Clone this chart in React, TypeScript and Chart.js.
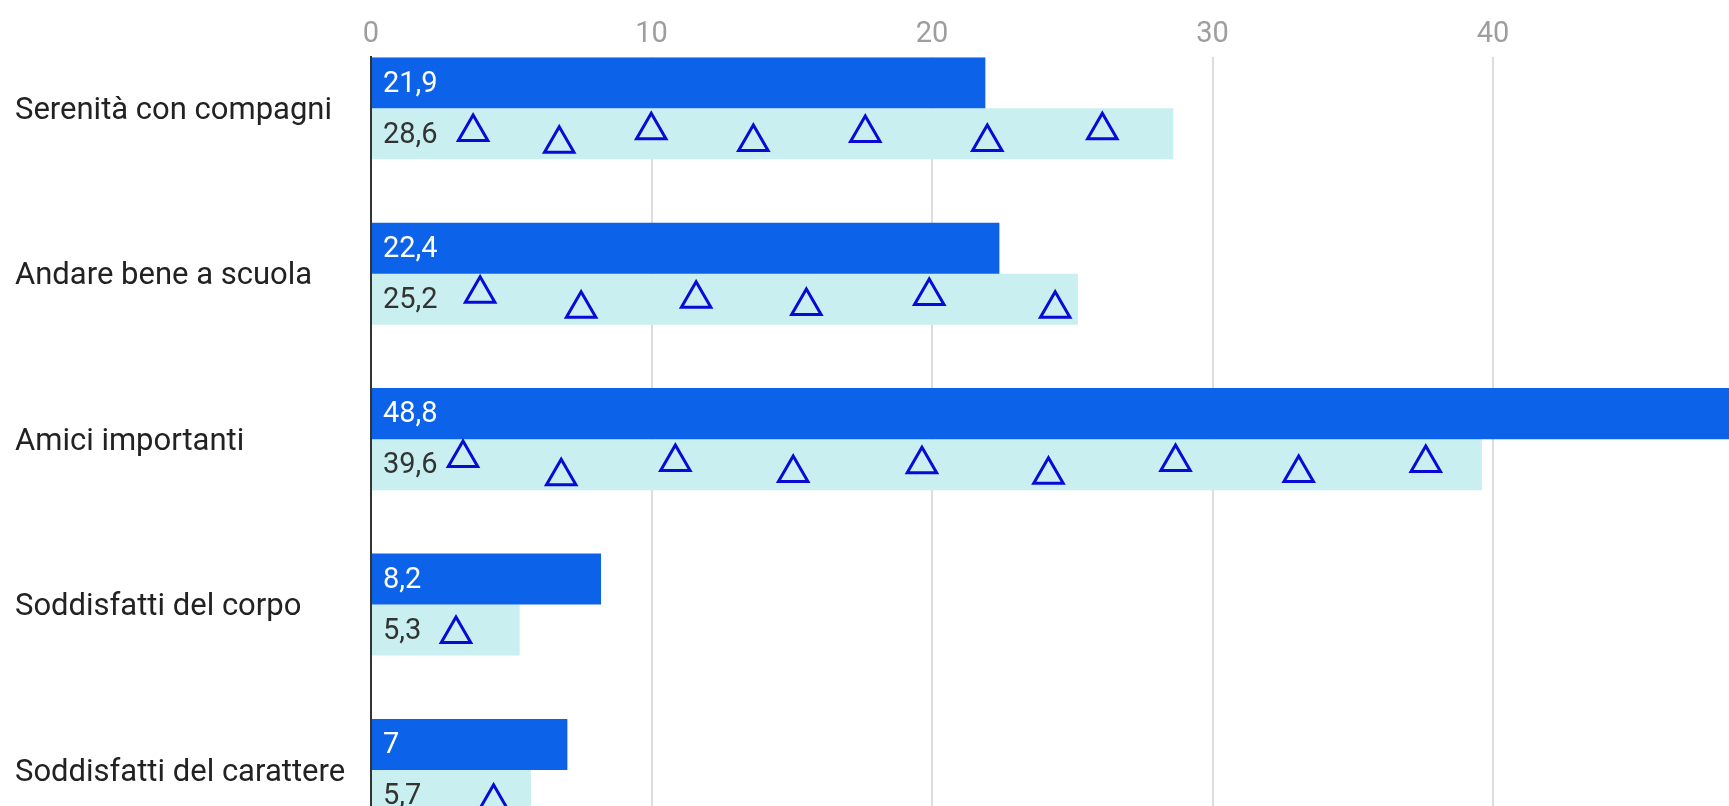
import React, { useEffect, useRef } from "react";
import { Chart, registerables } from "chart.js";

Chart.register(...registerables);

const categories = [
  "Serenità con compagni",
  "Andare bene a scuola",
  "Amici importanti",
  "Soddisfatti del corpo",
  "Soddisfatti del carattere",
];
const seriesA = [21.9, 22.4, 48.8, 8.2, 7];
const seriesB = [28.6, 25.2, 39.6, 5.3, 5.7];
const xTicks = [0, 10, 20, 30, 40];

// pattern marks (triangles) inside the light bars: x in axis units, dy = offset from category centre (category units)
const markX = [
  [3.64, 6.71, 9.99, 13.63, 17.62, 21.97, 26.07],
  [3.89, 7.49, 11.59, 15.52, 19.9, 24.39],
  [3.28, 6.78, 10.85, 15.05, 19.64, 24.15, 28.68, 33.07, 37.6],
  [3.03],
  [4.37],
];
const markDy = [
  [0.143, 0.214, 0.133, 0.204, 0.149, 0.204, 0.133],
  [0.121, 0.212, 0.151, 0.195, 0.135, 0.212],
  [0.114, 0.225, 0.138, 0.205, 0.152, 0.215, 0.138, 0.205, 0.144],
  [0.178],
  [0.193],
];

const Y_MIN = -0.3085;
const Y_MAX = 4.218;
const X_MAX = 48.41;

const fmt = (v: number) => String(v).replace(".", ",");

export default function App() {
  const ref = useRef<HTMLCanvasElement>(null);

  useEffect(() => {
    const canvas = ref.current!;
    const marks: { x: number; y: number }[] = [];
    markX.forEach((row, i) =>
      row.forEach((x, j) => marks.push({ x, y: i + markDy[i][j] }))
    );

    const labelPlugin = {
      id: "barLabels",
      afterDatasetsDraw(chart: any) {
        const c = chart.ctx;
        c.save();
        c.font = "29px Roboto";
        c.textBaseline = "middle";
        c.textAlign = "left";
        [0, 1].forEach((di) => {
          const meta = chart.getDatasetMeta(di);
          const ds = chart.data.datasets[di];
          meta.data.forEach((el: any, k: number) => {
            const v = (ds.data[k] as any).x;
            c.fillStyle = di === 0 ? "#ffffff" : "#333333";
            c.fillText(fmt(v), el.base + 11, el.y + 1.5);
          });
        });
        c.restore();
      },
    };

    const zeroPad = (s: any) => {
      s.paddingTop = 0;
      s.paddingBottom = 0;
      s.paddingLeft = 0;
      s.paddingRight = 0;
    };

    const chart = new Chart(canvas, {
      type: "bar",
      data: {
        datasets: [
          {
            type: "bar",
            label: "A",
            data: categories.map((_, i) => ({ x: seriesA[i], y: i })),
            backgroundColor: "#0c62e8",
            borderWidth: 0,
            categoryPercentage: 0.617,
            barPercentage: 1,
          } as any,
          {
            type: "bar",
            label: "B",
            data: categories.map((_, i) => ({ x: seriesB[i], y: i })),
            backgroundColor: "#c9eff0",
            borderWidth: 0,
            categoryPercentage: 0.617,
            barPercentage: 1,
          } as any,
          {
            type: "scatter",
            label: "marks",
            data: marks,
            order: -1,
            pointStyle: "triangle",
            pointRadius: 17,
            pointHoverRadius: 17,
            borderWidth: 3,
            borderColor: "#0a0ad6",
            backgroundColor: "rgba(0,0,0,0)",
            showLine: false,
          } as any,
        ],
      },
      options: {
        indexAxis: "y",
        animation: false,
        responsive: false,
        devicePixelRatio: 1,
        events: [],
        layout: {
          autoPadding: false,
          padding: { left: 15, top: 0, right: 0, bottom: 0 },
        },
        plugins: { legend: { display: false }, tooltip: { enabled: false } },
        scales: {
          x: {
            type: "linear",
            position: "top",
            min: 0,
            max: X_MAX,
            offset: false,
            afterDataLimits: (s: any) => {
              s.min = 0;
              s.max = X_MAX;
            },
            afterBuildTicks: (s: any) => {
              s.ticks = xTicks.map((v) => ({ value: v }));
            },
            afterFit: (s: any) => {
              s.height = 57.3;
              zeroPad(s);
            },
            ticks: {
              color: "#9e9e9e",
              font: { family: "Roboto", size: 29 },
              padding: 5,
              maxRotation: 0,
              autoSkip: false,
            },
            grid: { color: "#dddddd", lineWidth: 2, drawTicks: false, offset: false },
            border: { display: false },
          },
          y: {
            type: "linear",
            position: "left",
            reverse: true,
            min: Y_MIN,
            max: Y_MAX,
            offset: false,
            grace: 0,
            afterDataLimits: (s: any) => {
              s.min = Y_MIN;
              s.max = Y_MAX;
            },
            afterBuildTicks: (s: any) => {
              s.ticks = categories.map((_, i) => ({ value: i }));
            },
            afterFit: (s: any) => {
              s.width = 356;
              zeroPad(s);
            },
            ticks: {
              callback: (v: any) => categories[v] ?? "",
              crossAlign: "far",
              color: "#222222",
              font: { family: "Roboto", size: 31 },
              autoSkip: false,
              padding: 0,
              labelOffset: 3,
            },
            grid: { display: false, offset: false },
            border: { display: true, color: "#333333", width: 2, z: 1 },
          },
        },
      } as any,
      plugins: [labelPlugin],
    });

    return () => chart.destroy();
  }, []);

  return (
    <div
      style={{
        position: "fixed",
        left: 0,
        top: 0,
        width: 1729,
        height: 806,
        overflow: "hidden",
        background: "#ffffff",
      }}
    >
      <canvas ref={ref} width={1729} height={806} style={{ display: "block" }} />
    </div>
  );
}
